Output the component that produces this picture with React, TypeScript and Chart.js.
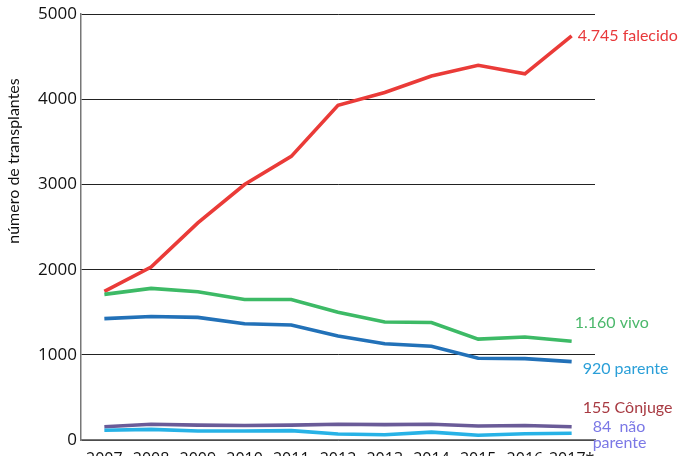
import React, { useEffect, useRef } from "react";
import { Chart, registerables } from "chart.js";

Chart.register(...registerables);

const years = ["2007", "2008", "2009", "2010", "2011", "2012", "2013", "2014", "2015", "2016", "2017*"];
const falecido = [1745, 2030, 2550, 3000, 3330, 3930, 4080, 4275, 4400, 4300, 4745];
const vivo = [1710, 1780, 1740, 1650, 1650, 1500, 1385, 1380, 1185, 1210, 1160];
const parente = [1425, 1450, 1440, 1365, 1350, 1220, 1130, 1100, 960, 955, 920];
const conjuge = [155, 185, 175, 170, 175, 185, 180, 185, 165, 170, 155];
const naoParente = [115, 125, 105, 105, 110, 70, 62, 93, 55, 74, 80];
const yTicks = [0, 1000, 2000, 3000, 4000, 5000];
const yTitle = "número de transplantes";

const endLabels = [
  { ds: 4, lines: ["4.745 falecido"], color: "#e8383a", dx: 6, dy: 0 },
  { ds: 3, lines: ["1.160 vivo"], color: "#4bb86b", dx: 3, dy: -18 },
  { ds: 2, lines: ["920 parente"], color: "#2a9fd8", dx: 11, dy: 7 },
  { ds: 1, lines: ["155 Cônjuge"], color: "#a83a42", dx: 11, dy: -19 },
  { ds: 0, lines: ["84  não", "parente"], color: "#7b78e6", dx: 21, dy: -6 },
];

const FONT = "Lato, 'Open Sans', sans-serif";
const TICKFONT = "'Open Sans', Lato, sans-serif";

export default function App() {
  const ref = useRef<HTMLCanvasElement | null>(null);
  useEffect(() => {
    if (!ref.current) return;
    const labelsPlugin = {
      id: "endLabels",
      afterDatasetsDraw(chart: any) {
        const ctx = chart.ctx;
        ctx.save();
        ctx.font = `16px ${FONT}`;
        ctx.textAlign = "left";
        ctx.textBaseline = "middle";
        endLabels.forEach((l) => {
          const meta = chart.getDatasetMeta(l.ds);
          const pt = meta.data[meta.data.length - 1];
          ctx.fillStyle = l.color;
          l.lines.forEach((t, i) => {
            ctx.fillText(t, pt.x + l.dx, pt.y + l.dy + i * 16);
          });
        });
        ctx.save();
        ctx.translate(14, 161);
        ctx.rotate(-Math.PI / 2);
        ctx.textAlign = "center";
        ctx.fillStyle = "#111";
        ctx.font = `16px ${FONT}`;
        ctx.fillText(yTitle, 0, 0);
        ctx.restore();
        ctx.restore();
      },
    };
    const mk = (label: string, data: number[], color: string) => ({
      label,
      data,
      borderColor: color,
      backgroundColor: color,
      borderWidth: 3.6,
      pointRadius: 0,
      tension: 0,
      fill: false,
    });
    const chart = new Chart(ref.current, {
      type: "line",
      data: {
        labels: years,
        datasets: [
          mk("não parente", naoParente, "#27b2e6"),
          mk("cônjuge", conjuge, "#6a5b98"),
          mk("parente", parente, "#2271b8"),
          mk("vivo", vivo, "#3dba66"),
          mk("falecido", falecido, "#ea3b38"),
        ],
      },
      options: {
        animation: false,
        responsive: false,
        maintainAspectRatio: false,
        layout: { padding: { top: 7, right: 89, left: 0, bottom: 0 } },
        plugins: { legend: { display: false }, tooltip: { enabled: false } },
        scales: {
          x: {
            offset: true,
            grid: { display: false },
            border: { color: "#777", width: 1.5 },
            ticks: { color: "#111", font: { family: TICKFONT, size: 16 }, padding: 2, maxRotation: 0, autoSkip: false },
            afterFit: (s: any) => { s.height = 40; },
          },
          y: {
            min: 0,
            max: 5000,
            afterBuildTicks: (s: any) => { s.ticks = yTicks.map((v) => ({ value: v })); },
            grid: { color: "#222", lineWidth: 1, drawTicks: false },
            border: { color: "#777", width: 1.5 },
            ticks: {
              color: "#111",
              font: { family: TICKFONT, size: 17 },
              padding: 4,
              callback: (v: any) => String(v),
            },
            afterFit: (s: any) => { s.width = 81; },
          },
        },
      },
      plugins: [labelsPlugin],
    });
    return () => chart.destroy();
  }, []);
  return (
    <div style={{ position: "absolute", left: 0, top: 0, width: 684, height: 480, background: "#fff" }}>
      <canvas ref={ref} width={684} height={480} style={{ display: "block" }} />
    </div>
  );
}
